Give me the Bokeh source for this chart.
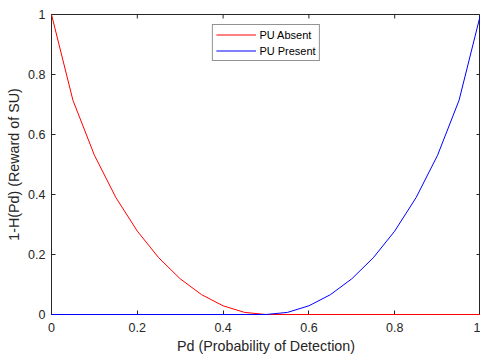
import math
from bokeh.plotting import figure
from bokeh.models import Range1d, FixedTicker, Legend, LegendItem
from bokeh.embed import file_html
from bokeh.resources import INLINE

pd_values = [0.0, 0.05, 0.1, 0.15, 0.2, 0.25, 0.3, 0.35, 0.4, 0.45, 0.5,
             0.55, 0.6, 0.65, 0.7, 0.75, 0.8, 0.85, 0.9, 0.95, 1.0]
pu_absent = [1.0, 0.714, 0.531, 0.390, 0.278, 0.189, 0.119, 0.066, 0.029, 0.007, 0.0,
             0.0, 0.0, 0.0, 0.0, 0.0, 0.0, 0.0, 0.0, 0.0, 0.0]
pu_present = [0.0, 0.0, 0.0, 0.0, 0.0, 0.0, 0.0, 0.0, 0.0, 0.0, 0.0,
              0.007, 0.029, 0.066, 0.119, 0.189, 0.278, 0.390, 0.531, 0.714, 1.0]
ticks = [0, 0.2, 0.4, 0.6, 0.8, 1]
x_lo, x_hi = 0, 1
y_lo, y_hi = 0, 1

FONT = "Liberation Sans"
AX = "#262626"

p = figure(width=480, height=356, output_backend="svg", toolbar_location=None,
           x_range=Range1d(x_lo, x_hi), y_range=Range1d(y_lo, y_hi),
           min_border_left=51, min_border_right=0, min_border_top=14, min_border_bottom=42,
           x_axis_label="Pd (Probability of Detection)",
           y_axis_label="1-H(Pd) (Reward of SU)")
p.grid.visible = False
p.outline_line_color = AX
p.outline_line_width = 1
p.background_fill_color = "white"
p.border_fill_color = "white"

# tick marks on the top and right edges of the box (MATLAB style)
p.ray(x=ticks, y=[y_hi] * len(ticks), length=4, length_units="screen",
      angle=-math.pi / 2, color=AX, line_width=1)
p.ray(x=[x_hi] * len(ticks), y=ticks, length=4, length_units="screen",
      angle=math.pi, color=AX, line_width=1)

r1 = p.line(pd_values, pu_absent, color="#ff0000", line_width=1, level="overlay")
r2 = p.line(pd_values, pu_present, color="#0000ff", line_width=1, level="overlay")

for ax in p.xaxis + p.yaxis:
    ax.ticker = FixedTicker(ticks=ticks)
    ax.major_tick_in = 4
    ax.major_tick_out = 0
    ax.minor_tick_in = 0
    ax.minor_tick_out = 0
    ax.axis_line_color = AX
    ax.major_tick_line_color = AX
    ax.major_label_text_font = FONT
    ax.major_label_text_font_size = "12.5px"
    ax.major_label_text_color = AX
    ax.axis_label_text_font = FONT
    ax.axis_label_text_font_size = "14.3px"
    ax.axis_label_text_font_style = "normal"
    ax.axis_label_text_color = AX
p.xaxis.major_label_overrides = {0: "0", 1: "1"}
p.yaxis.major_label_overrides = {0: "0", 1: "1"}
p.xaxis.major_label_standoff = 8
p.yaxis.major_label_standoff = 6
p.xaxis.axis_label_standoff = 3
p.yaxis.axis_label_standoff = 3

legend = Legend(items=[LegendItem(label="PU Absent", renderers=[r1]),
                       LegendItem(label="PU Present", renderers=[r2])],
                location="top_center", label_text_font=FONT, label_text_font_size="11px",
                label_text_color="#000000", glyph_width=40, glyph_height=13,
                label_height=13, spacing=3, padding=3, margin=10,
                border_line_color=AX, border_line_width=1, label_standoff=4)
p.add_layout(legend)

open("out.html", "w").write(file_html(p, INLINE))
